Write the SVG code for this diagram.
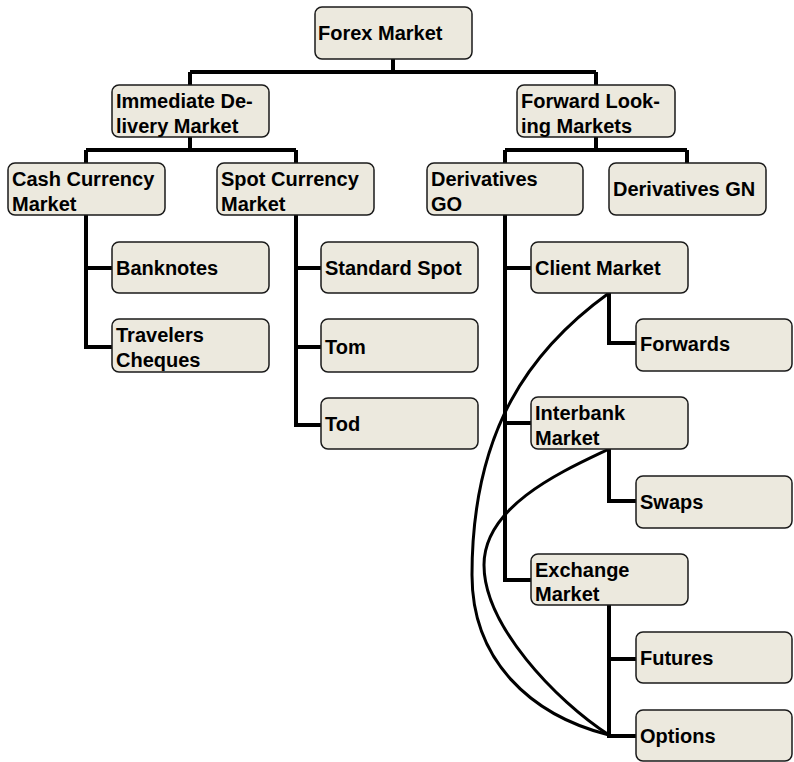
<svg xmlns="http://www.w3.org/2000/svg" width="794" height="762" viewBox="0 0 794 762">
  <style>
    .box { fill: #ECE9DE; stroke: #1a1a1a; stroke-width: 1.5; }
    .lbl { font-family: "Liberation Sans", Arial, sans-serif; font-weight: bold; font-size: 20px; fill: #000; }
    .tree { fill: none; stroke: #000; stroke-width: 4; stroke-linejoin: miter; stroke-linecap: butt; }
    .arc { fill: none; stroke: #000; stroke-width: 3; }
  </style>
  <defs>
    <clipPath id="c-immediate"><rect x="112" y="85" width="157" height="52"/></clipPath>
    <clipPath id="c-forward"><rect x="517" y="85" width="158" height="52"/></clipPath>
    <clipPath id="c-cash"><rect x="8" y="163" width="157" height="52"/></clipPath>
    <clipPath id="c-spot"><rect x="217" y="163" width="157" height="52"/></clipPath>
    <clipPath id="c-dergo"><rect x="427" y="163" width="156" height="52"/></clipPath>
    <clipPath id="c-travelers"><rect x="112" y="319" width="157" height="53"/></clipPath>
    <clipPath id="c-interbank"><rect x="531" y="397" width="157" height="52"/></clipPath>
    <clipPath id="c-exchange"><rect x="531" y="554" width="157" height="51"/></clipPath>
  </defs>

  <rect width="794" height="762" fill="#fff"/>

  <!-- connectors -->
  <g id="connectors">
    <!-- root level -->
    <path class="tree" d="M393 59 V72 M190 72 H596 M190 72 V85 M596 72 V85"/>
    <!-- second level -->
    <path class="tree" d="M190 137 V150 M86 150 H296 M86 150 V163 M296 150 V163"/>
    <path class="tree" d="M596 137 V150 M505 150 H687 M505 150 V163 M687 150 V163"/>
    <!-- cash currency children -->
    <path class="tree" d="M86 215 V347 H112 M86 268 H112"/>
    <!-- spot currency children -->
    <path class="tree" d="M296 215 V425 H321 M296 268 H321 M296 347 H321"/>
    <!-- derivatives GO children -->
    <path class="tree" d="M505 215 V580 H531 M505 268 H531 M505 423 H531"/>
    <!-- market children -->
    <path class="tree" d="M609 293 V343 H636"/>
    <path class="tree" d="M609 449 V501 H636"/>
    <path class="tree" d="M609 605 V736 H636 M609 659 H636"/>
    <!-- curved links to options -->
    <path class="arc" d="M609 293 C530 350 472 430 472 575 C472 660 530 715 609 735"/>
    <path class="arc" d="M609 449 C565 470 484 505 484 565 C484 625 555 700 609 735"/>
  </g>

  <g id="forex-market">
    <rect class="box" x="315" y="7" width="157" height="52" rx="7"/>
    <text class="lbl" x="318" y="40">Forex Market</text>
  </g>

  <g id="immediate-delivery-market">
    <rect class="box" x="112" y="85" width="157" height="52" rx="7"/>
    <g clip-path="url(#c-immediate)">
      <text class="lbl" x="116" y="108">Immediate De-</text>
      <text class="lbl" x="116" y="133">livery Market</text>
    </g>
  </g>

  <g id="forward-looking-markets">
    <rect class="box" x="517" y="85" width="158" height="52" rx="7"/>
    <g clip-path="url(#c-forward)">
      <text class="lbl" x="521" y="108">Forward Look-</text>
      <text class="lbl" x="521" y="133">ing Markets</text>
    </g>
  </g>

  <g id="cash-currency-market">
    <rect class="box" x="8" y="163" width="157" height="52" rx="7"/>
    <g clip-path="url(#c-cash)">
      <text class="lbl" x="12" y="186">Cash Currency</text>
      <text class="lbl" x="12" y="211">Market</text>
    </g>
  </g>

  <g id="spot-currency-market">
    <rect class="box" x="217" y="163" width="157" height="52" rx="7"/>
    <g clip-path="url(#c-spot)">
      <text class="lbl" x="221" y="186">Spot Currency</text>
      <text class="lbl" x="221" y="211">Market</text>
    </g>
  </g>

  <g id="derivatives-go">
    <rect class="box" x="427" y="163" width="156" height="52" rx="7"/>
    <g clip-path="url(#c-dergo)">
      <text class="lbl" x="431" y="186">Derivatives</text>
      <text class="lbl" x="431" y="211">GO</text>
    </g>
  </g>

  <g id="derivatives-gn">
    <rect class="box" x="609" y="163" width="157" height="52" rx="7"/>
    <text class="lbl" x="613" y="196">Derivatives GN</text>
  </g>

  <g id="banknotes">
    <rect class="box" x="112" y="242" width="157" height="51" rx="7"/>
    <text class="lbl" x="116" y="275">Banknotes</text>
  </g>

  <g id="travelers-cheques">
    <rect class="box" x="112" y="319" width="157" height="53" rx="7"/>
    <g clip-path="url(#c-travelers)">
      <text class="lbl" x="116" y="342">Travelers</text>
      <text class="lbl" x="116" y="367">Cheques</text>
    </g>
  </g>

  <g id="standard-spot">
    <rect class="box" x="321" y="242" width="157" height="51" rx="7"/>
    <text class="lbl" x="325" y="275">Standard Spot</text>
  </g>

  <g id="tom">
    <rect class="box" x="321" y="319" width="157" height="53" rx="7"/>
    <text class="lbl" x="325" y="354">Tom</text>
  </g>

  <g id="tod">
    <rect class="box" x="321" y="398" width="157" height="51" rx="7"/>
    <text class="lbl" x="325" y="431">Tod</text>
  </g>

  <g id="client-market">
    <rect class="box" x="531" y="242" width="157" height="51" rx="7"/>
    <text class="lbl" x="535" y="275">Client Market</text>
  </g>

  <g id="forwards">
    <rect class="box" x="636" y="319" width="156" height="52" rx="7"/>
    <text class="lbl" x="640" y="351">Forwards</text>
  </g>

  <g id="interbank-market">
    <rect class="box" x="531" y="397" width="157" height="52" rx="7"/>
    <g clip-path="url(#c-interbank)">
      <text class="lbl" x="535" y="420">Interbank</text>
      <text class="lbl" x="535" y="445">Market</text>
    </g>
  </g>

  <g id="swaps">
    <rect class="box" x="636" y="476" width="156" height="52" rx="7"/>
    <text class="lbl" x="640" y="509">Swaps</text>
  </g>

  <g id="exchange-market">
    <rect class="box" x="531" y="554" width="157" height="51" rx="7"/>
    <g clip-path="url(#c-exchange)">
      <text class="lbl" x="535" y="577">Exchange</text>
      <text class="lbl" x="535" y="601">Market</text>
    </g>
  </g>

  <g id="futures">
    <rect class="box" x="636" y="632" width="156" height="51" rx="7"/>
    <text class="lbl" x="640" y="665">Futures</text>
  </g>

  <g id="options">
    <rect class="box" x="636" y="710" width="156" height="51" rx="7"/>
    <text class="lbl" x="640" y="743">Options</text>
  </g>
</svg>
